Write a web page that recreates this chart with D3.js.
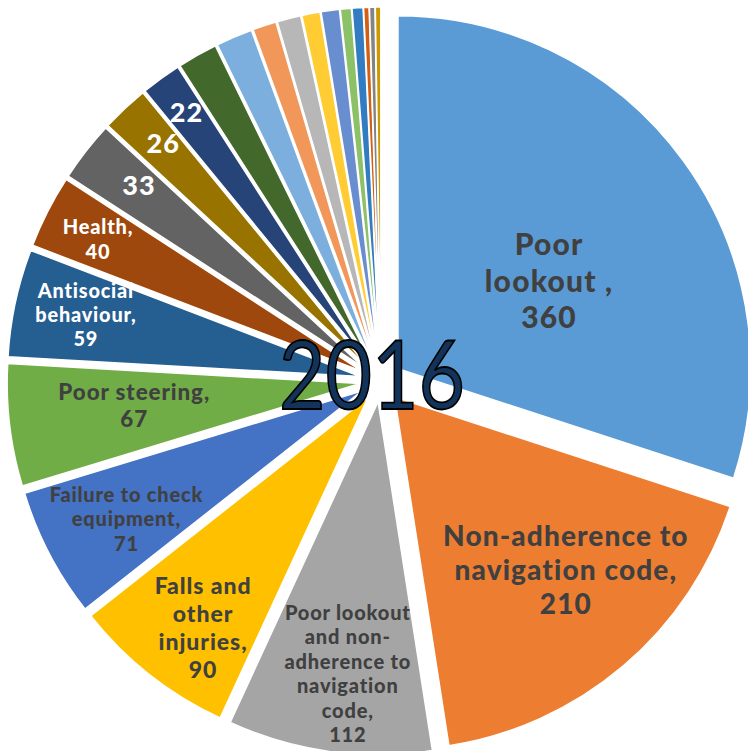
<!DOCTYPE html>
<html>
<head>
<meta charset="utf-8">
<script src="https://cdn.jsdelivr.net/npm/d3@7"></script>
<style>
  html, body { margin: 0; padding: 0; background: #ffffff; overflow: hidden; }
  svg { display: block; }
</style>
</head>
<body>
<div id="chart"></div>
<script>
// ---------------- data ----------------
const title = "2016";
const categories = [
  "Poor lookout", "Non-adherence to navigation code",
  "Poor lookout and non-adherence to navigation code", "Falls and other injuries",
  "Failure to check equipment", "Poor steering", "Antisocial behaviour", "Health",
  "Cause 9", "Cause 10", "Cause 11", "Cause 12", "Cause 13", "Cause 14", "Cause 15",
  "Cause 16", "Cause 17", "Cause 18", "Cause 19", "Cause 20", "Cause 21", "Cause 22"
];
const values = [360, 210, 112, 90, 71, 67, 59, 40, 33, 26, 22, 22, 20, 13, 13, 10, 10, 6, 6, 3, 3, 3];
// label text lines shown before the value (null = no label)
const labelLines = [
  ["Poor", "lookout ,"],
  ["Non-adherence to", "navigation code,"],
  ["Poor lookout", "and non-", "adherence to", "navigation", "code,"],
  ["Falls and", "other", "injuries,"],
  ["Failure to check", "equipment,"],
  ["Poor steering,"],
  ["Antisocial", "behaviour,"],
  ["Health,"],
  [], [], [],
  null, null, null, null, null, null, null, null, null, null, null
];
const colors = [
  "#5B9BD5", "#ED7D31", "#A5A5A5", "#FFC000", "#4472C4", "#70AD47", "#255E91",
  "#9E480E", "#636363", "#997300", "#264478", "#43682B", "#7CAFDD", "#F1975A",
  "#B7B7B7", "#FFCD33", "#698ED0", "#8CC168", "#327DC2", "#D26012", "#848484", "#CC9A00"
];

// ---------------- layout / style ----------------
const W = 748, H = 751;
const cx = 381, cy = 381, R = 353, explode = 21;
// per-label style: font size, line height, colour, radial fraction, angle nudge (deg)
const labelStyle = [
  {fs: 30, lh: 36.5, fill: "#404040", r: 0.495, da: 5.8},
  {fs: 28, lh: 34, fill: "#404040", r: 0.690, da: -4.3},
  {fs: 20, lh: 24.5, fill: "#404040", r: 0.776, da: -1.6},
  {fs: 23, lh: 28, fill: "#404040", r: 0.803, da: -2.7},
  {fs: 20, lh: 24.5, fill: "#404040", r: 0.761, da: -1.0},
  {fs: 22.4, lh: 27, fill: "#404040", r: 0.643, da: 1.3},
  {fs: 19.9, lh: 24, fill: "#ffffff", r: 0.797, da: 0.5},
  {fs: 20, lh: 24.3, fill: "#ffffff", r: 0.837, da: -0.4},
  {fs: 27, lh: 30, fill: "#ffffff", r: 0.823, da: 1.2},
  {fs: 27, lh: 30, fill: "#ffffff", r: 0.854, da: 0.8},
  {fs: 27, lh: 30, fill: "#ffffff", r: 0.881, da: 0.2}
];

const svg = d3.select("#chart").append("svg")
  .attr("width", W).attr("height", H)
  .attr("viewBox", `0 0 ${W} ${H}`);

const pie = d3.pie().sort(null).value(d => d)(values);
const arc = d3.arc().innerRadius(0).outerRadius(R);

svg.append("g").selectAll("path")
  .data(pie).join("path")
  .attr("d", arc)
  .attr("transform", d => {
    const m = (d.startAngle + d.endAngle) / 2;
    return `translate(${cx + explode * Math.sin(m)},${cy - explode * Math.cos(m)})`;
  })
  .attr("fill", (d, i) => colors[i])
  .attr("stroke", "#ffffff")
  .attr("stroke-width", 1.5)
  .attr("stroke-linejoin", "round");

// labels
const labels = svg.append("g")
  .attr("font-family", "Lato, 'Open Sans', sans-serif")
  .attr("font-weight", 900)
  .attr("text-anchor", "middle");

pie.forEach((d, i) => {
  if (labelLines[i] == null) return;
  const st = labelStyle[i];
  const m = (d.startAngle + d.endAngle) / 2;
  const ax = cx + explode * Math.sin(m), ay = cy - explode * Math.cos(m);
  const a = m + st.da * Math.PI / 180;
  const px = ax + st.r * R * Math.sin(a);
  const py = ay - st.r * R * Math.cos(a);
  const lines = labelLines[i].concat([String(values[i])]);
  const n = lines.length;
  const capH = 0.72 * st.fs;
  const y0 = py - (n - 1) * st.lh / 2 + capH / 2;
  const t = labels.append("text")
    .attr("font-size", st.fs)
    .attr("letter-spacing", (0.04 * st.fs).toFixed(2))
    .attr("fill", st.fill);
  lines.forEach((ln, k) => {
    t.append("tspan").attr("x", px).attr("y", y0 + k * st.lh).text(ln);
  });
});

// central year text
svg.append("text")
  .attr("x", 372).attr("y", 409)
  .attr("text-anchor", "middle")
  .attr("font-family", "Lato, 'Open Sans', sans-serif")
  .attr("font-size", 95)
  .attr("textLength", 186)
  .attr("lengthAdjust", "spacingAndGlyphs")
  .attr("fill", "#12335A")
  .attr("stroke", "#000000")
  .attr("stroke-width", 1.8)
  .text(title);
</script>
</body>
</html>
